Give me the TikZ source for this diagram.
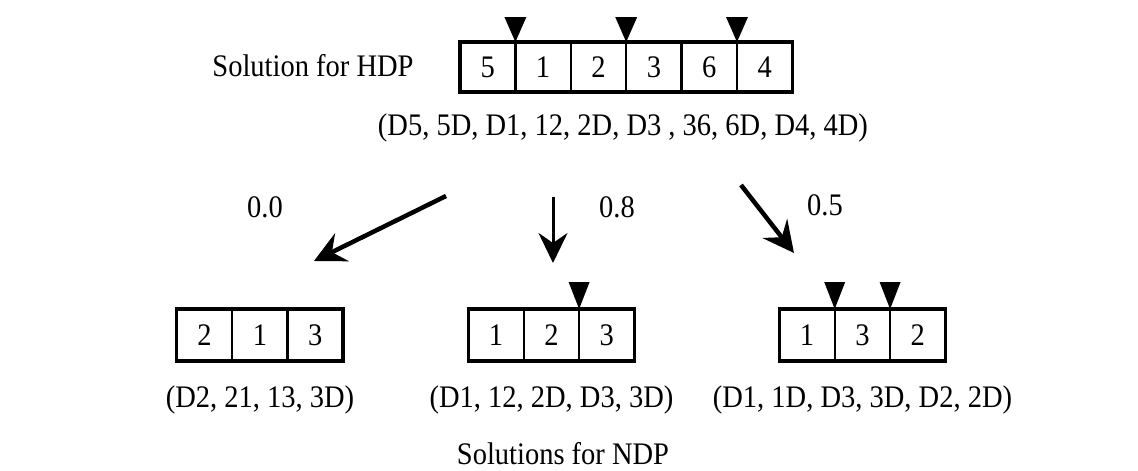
\documentclass[tikz,border=0pt]{standalone}
\usepackage{fontspec}
\setmainfont{Liberation Serif}
\usetikzlibrary{arrows.meta,calc}
\newcommand{\stretchtx}[1]{\scalebox{1}[1.1]{#1}}
\begin{document}
\begin{tikzpicture}[x=1pt,y=-1pt,
  txt/.style={font=\fontsize{28.5}{30}\selectfont, inner sep=0pt},
  cell/.style={draw, line width=2.4pt, minimum width=55.4pt, minimum height=50pt, inner sep=0pt, outer sep=0pt, font=\fontsize{28.5}{30}\selectfont},
  bcell/.style={cell, minimum height=52pt},
  outerbox/.style={draw, line width=3.2pt},
  marker/.style={fill=black},
  bigarrow/.style={line width=4.5pt, -{Stealth[length=31pt,width=31pt,inset=11pt]}},
  thinarrow/.style={line width=3pt, -{Stealth[length=30pt,width=29pt,inset=10pt]}},
]
\useasboundingbox (0,0) rectangle (1138,471);

% top array
\node[txt] (hdp) at (313,66) {\stretchtx{Solution for HDP}};
\node[cell] (t1) at (487.7,67) {\stretchtx{5}};
\node[cell, anchor=west] (t2) at (t1.east) {\stretchtx{1}};
\node[cell, anchor=west] (t3) at (t2.east) {\stretchtx{2}};
\node[cell, anchor=west] (t4) at (t3.east) {\stretchtx{3}};
\node[cell, anchor=west] (t5) at (t4.east) {\stretchtx{6}};
\node[cell, anchor=west] (t6) at (t5.east) {\stretchtx{4}};
\draw[outerbox] (t1.north west) rectangle (t6.south east);
\fill[marker] (t1.north east) -- ++(-11,-25) -- ++(22,0) -- cycle;
\fill[marker] (t3.north east) -- ++(-11,-25) -- ++(22,0) -- cycle;
\fill[marker] (t5.north east) -- ++(-11,-25) -- ++(22,0) -- cycle;
\node[txt] (hdpseq) at (623,128) {\stretchtx{(D5, 5D, D1, 12, 2D, D3 , 36, 6D, D4, 4D)}};

% probabilities
\node[txt] (p0) at (265,207) {\stretchtx{0.0}};
\node[txt] (p8) at (617,207) {\stretchtx{0.8}};
\node[txt] (p5) at (825,205) {\stretchtx{0.5}};

% arrows
\coordinate (a1s) at (446,196); \coordinate (a1e) at (314,261);
\coordinate (a2s) at (553,197); \coordinate (a2e) at (553,263);
\coordinate (a3s) at (741,185); \coordinate (a3e) at (794,253);
\draw[bigarrow] (a1s) -- (a1e);
\draw[thinarrow] (a2s) -- (a2e);
\draw[bigarrow] (a3s) -- (a3e);

% left bottom array
\node[bcell] (l1) at (204.5,335) {\stretchtx{2}};
\node[bcell, anchor=west] (l2) at (l1.east) {\stretchtx{1}};
\node[bcell, anchor=west] (l3) at (l2.east) {\stretchtx{3}};
\draw[outerbox] (l1.north west) rectangle (l3.south east);
\node[txt] (lseq) at (260,400) {\stretchtx{(D2, 21, 13, 3D)}};

% middle bottom array
\node[bcell] (m1) at (496,335) {\stretchtx{1}};
\node[bcell, anchor=west] (m2) at (m1.east) {\stretchtx{2}};
\node[bcell, anchor=west] (m3) at (m2.east) {\stretchtx{3}};
\draw[outerbox] (m1.north west) rectangle (m3.south east);
\fill[marker] (m2.north east) -- ++(-10.5,-27) -- ++(21,0) -- cycle;
\node[txt] (mseq) at (551.5,400) {\stretchtx{(D1, 12, 2D, D3, 3D)}};

% right bottom array
\node[bcell] (r1) at (807,335) {\stretchtx{1}};
\node[bcell, anchor=west] (r2) at (r1.east) {\stretchtx{3}};
\node[bcell, anchor=west] (r3) at (r2.east) {\stretchtx{2}};
\draw[outerbox] (r1.north west) rectangle (r3.south east);
\fill[marker] (r1.north east) -- ++(-10.5,-27) -- ++(21,0) -- cycle;
\fill[marker] (r2.north east) -- ++(-10.5,-27) -- ++(21,0) -- cycle;
\node[txt] (rseq) at (862.5,400) {\stretchtx{(D1, 1D, D3, 3D, D2, 2D)}};

\node[txt] (ndp) at (563,454) {\stretchtx{Solutions for NDP}};
\end{tikzpicture}
\end{document}
